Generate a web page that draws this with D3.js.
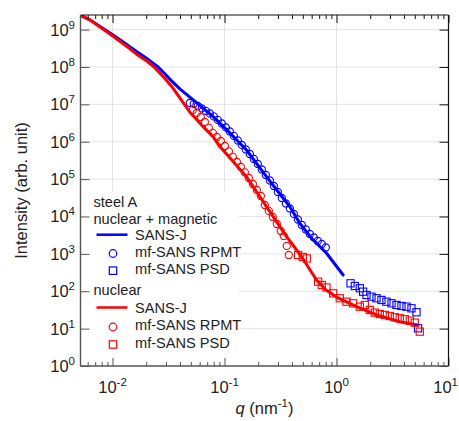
<!DOCTYPE html>
<html><head><meta charset="utf-8">
<script src="https://cdn.jsdelivr.net/npm/d3@7"></script>
<style>
html,body{margin:0;padding:0;background:#fff;}
svg{display:block;font-family:"Liberation Sans",Arial,Helvetica,sans-serif;}
</style></head>
<body><svg id="c" width="459" height="421"></svg>
<script>
// ---------- data (q in nm^-1, intensity in arb. unit) ----------
const blueSANSJ = [[0.0051,2.47e9],[0.00627,1.82e9],[0.0101,7.2e8],[0.0132,4.1e8],[0.01637,2.58e8],[0.0201,1.71e8],[0.025,1.05e8],[0.0283,7.3e7],[0.0335,4.3e7],[0.0399,2.6e7],[0.0525,1.31e7],[0.0791,4.69e6],[0.1115,1.72e6],[0.157,6.0e5],[0.237,1.16e5],[0.312,4.0e4],[0.383,1.83e4],[0.470,6.6e3],[0.6,2.6e3],[0.815,1.04e3],[1.146,272]];
const redSANSJ = [[0.0051,2.47e9],[0.00627,1.82e9],[0.0101,6.6e8],[0.0132,3.7e8],[0.01637,2.2e8],[0.0205,1.4e8],[0.0238,9.6e7],[0.0265,6.8e7],[0.0292,5.0e7],[0.0335,3.1e7],[0.0399,1.5e7],[0.049,6.2e6],[0.0644,2.53e6],[0.0791,1.37e6],[0.0908,7.4e5],[0.12,2.9e5],[0.157,1.16e5],[0.237,1.83e4],[0.358,2.88e3],[0.41,1.7e3],[0.5,7.5e2],[0.663,200],[0.8,110],[1.0,70],[1.51,38.6],[2.28,23.2],[3.67,15.3],[5.32,12.5]];
const blueRPMT = [[0.0490,1.09e7],[0.0532,1.03e7],[0.0577,9.06e6],[0.0627,7.77e6],[0.0681,6.67e6],[0.0739,5.71e6],[0.0802,4.75e6],[0.0871,3.83e6],[0.0946,3.08e6],[0.1027,2.41e6],[0.1115,1.88e6],[0.1211,1.43e6],[0.1315,1.08e6],[0.1427,8.2e5],[0.1549,6.21e5],[0.1682,4.71e5],[0.1827,3.46e5],[0.1983,2.54e5],[0.2153,1.81e5],[0.2338,1.29e5],[0.2539,9.2e4],[0.2756,6.56e4],[0.2993,4.53e4],[0.325,3.13e4],[0.3529,2.23e4],[0.3831,1.64e4],[0.416,1.17e4],[0.4515,8.3e3],[0.490,5.93e3],[0.532,4.5e3],[0.5775,3.41e3],[0.627,2.75e3],[0.681,2.21e3],[0.739,1.84e3],[0.8026,1.48e3]];
const bluePSD = [[1.334,163],[1.457,138],[1.614,120],[1.728,97.3],[1.853,79.4],[2.053,71.5],[2.276,64.8],[2.52,58.4],[2.79,52.6],[3.10,47.6],[3.43,42.9],[3.80,40.3],[4.22,38.7],[4.67,35.0],[5.18,27.4],[5.35,10.2]];
const redRPMT = [[0.0521,7.08e6],[0.0566,5.89e6],[0.0614,4.6e6],[0.0667,3.38e6],[0.0724,2.34e6],[0.0786,1.72e6],[0.0854,1.34e6],[0.0927,1.05e6],[0.1007,7.7e5],[0.1093,5.5e5],[0.1186,3.92e5],[0.1288,2.88e5],[0.1398,2.11e5],[0.1518,1.51e5],[0.1648,1.07e5],[0.179,7.4e4],[0.1943,5.13e4],[0.211,3.54e4],[0.229,2.03e4],[0.2486,1.41e4],[0.270,9.7e3],[0.293,6.3e3],[0.318,4.1e3],[0.3384,3.01e3],[0.3598,1.63e3],[0.375,934]];
const redPSD = [[0.454,934],[0.500,826],[0.543,753],[0.685,180],[0.739,147],[0.814,126],[0.933,88],[1.070,64.8],[1.228,52.6],[1.407,47.6],[1.614,38.6],[1.789,42.9],[1.983,31.5],[2.198,26.7],[2.436,24.6],[2.70,23.2],[2.99,21.8],[3.32,20.1],[3.67,18.9],[4.07,17.8],[4.51,16.3],[5.0,14.4],[5.54,8.3]];
const xTicks = [0.01, 0.1, 1, 10];
const xTickExp = ["-2", "-1", "0", "1"];
const yTicks = [1, 10, 100, 1e3, 1e4, 1e5, 1e6, 1e7, 1e8, 1e9];
const yTickExp = ["0","1","2","3","4","5","6","7","8","9"];
const legendItems = [
  {type:"title", text:"steel A"},
  {type:"title", text:"nuclear + magnetic"},
  {type:"line", color:"#0000ff", text:"SANS-J"},
  {type:"circle", color:"#0000ff", text:"mf-SANS RPMT"},
  {type:"square", color:"#0000ff", text:"mf-SANS PSD"},
  {type:"title", text:"nuclear"},
  {type:"line", color:"#ff0000", text:"SANS-J"},
  {type:"circle", color:"#ff0000", text:"mf-SANS RPMT"},
  {type:"square", color:"#ff0000", text:"mf-SANS PSD"}
];

// ---------- layout ----------
const L = 80.5, R = 448.5, T = 15, B = 366;
const W = 459;
const x = d3.scaleLog().domain([Math.pow(10,-2.286), 10]).range([L, R]);
const y = d3.scaleLog().domain([1, Math.pow(10,9.39)]).range([B, T]);
const svg = d3.select("#c");

svg.append("defs").append("clipPath").attr("id","clip")
  .append("rect").attr("x",L).attr("y",T).attr("width",R-L).attr("height",B-T);

// grid
const grid = svg.append("g").attr("stroke","#e4e4e4").attr("stroke-width",1);
xTicks.forEach(v => { if (x(v) > L+1 && x(v) < R-1) grid.append("line").attr("x1",x(v)).attr("x2",x(v)).attr("y1",T).attr("y2",B); });
yTicks.forEach(v => { if (y(v) > T+1 && y(v) < B-1) grid.append("line").attr("x1",L).attr("x2",R).attr("y1",y(v)).attr("y2",y(v)); });

// legend background
svg.append("rect").attr("x",L+1).attr("y",191).attr("width",157).attr("height",B-192).attr("fill","#fff");

// data
const plot = svg.append("g").attr("clip-path","url(#clip)");
const line = d3.line().x(d => x(d[0])).y(d => y(d[1])).curve(d3.curveLinear);
function drawLine(data, color){
  plot.append("path").datum(data).attr("d",line).attr("fill","none")
    .attr("stroke",color).attr("stroke-width",3).attr("stroke-linejoin","round").attr("stroke-linecap","round");
}
function drawCircles(data, color){
  plot.append("g").selectAll("circle").data(data).join("circle")
    .attr("cx",d=>x(d[0])).attr("cy",d=>y(d[1])).attr("r",3.6)
    .attr("fill","none").attr("stroke",color).attr("stroke-width",1.1);
}
function drawSquares(data, color){
  plot.append("g").selectAll("rect").data(data).join("rect")
    .attr("x",d=>x(d[0])-3.6).attr("y",d=>y(d[1])-3.6).attr("width",7.2).attr("height",7.2)
    .attr("fill","none").attr("stroke",color).attr("stroke-width",1.1);
}
drawLine(blueSANSJ, "#0000ff");
drawLine(redSANSJ, "#ff0000");
drawCircles(blueRPMT, "#0000ff");
drawCircles(redRPMT, "#ff0000");
drawSquares(bluePSD, "#0000ff");
drawSquares(redPSD, "#ff0000");

// axes ticks
const [xd0, xd1] = x.domain();
const xMinor = [];
for (let e = -3; e <= 1; e++) for (let k = 2; k <= 9; k++) { const v = k*Math.pow(10,e); if (v > xd0 && v < xd1) xMinor.push(v); }
const axisG = svg.append("g");
function ticks(axis, tr, color){
  axisG.append("g").attr("transform",tr).attr("color",color).call(axis)
    .call(g => g.select(".domain").remove());
}
ticks(d3.axisBottom(x).tickValues(xTicks).tickSizeInner(-8).tickSizeOuter(0).tickFormat(""), `translate(0,${B})`, "#555");
ticks(d3.axisBottom(x).tickValues(xMinor).tickSizeInner(-4).tickSizeOuter(0).tickFormat(""), `translate(0,${B})`, "#555");
ticks(d3.axisTop(x).tickValues(xTicks).tickSizeInner(-8).tickSizeOuter(0).tickFormat(""), `translate(0,${T})`, "#111");
ticks(d3.axisTop(x).tickValues(xMinor).tickSizeInner(-4).tickSizeOuter(0).tickFormat(""), `translate(0,${T})`, "#111");
ticks(d3.axisLeft(y).tickValues(yTicks).tickSizeInner(-9).tickSizeOuter(0).tickFormat(""), `translate(${L},0)`, "#555");
ticks(d3.axisRight(y).tickValues(yTicks).tickSizeInner(-9).tickSizeOuter(0).tickFormat(""), `translate(${R},0)`, "#111");
axisG.selectAll(".tick line").attr("stroke-width",1);

// frame
svg.append("line").attr("x1",L).attr("x2",R).attr("y1",T).attr("y2",T).attr("stroke","#111").attr("stroke-width",1.2);
svg.append("line").attr("x1",R).attr("x2",R).attr("y1",T).attr("y2",B).attr("stroke","#111").attr("stroke-width",1.2);
svg.append("line").attr("x1",L).attr("x2",R).attr("y1",B).attr("y2",B).attr("stroke","#555").attr("stroke-width",1.4);
svg.append("line").attr("x1",L).attr("x2",L).attr("y1",T).attr("y2",B).attr("stroke","#555").attr("stroke-width",1.4);

// tick labels
yTicks.forEach((v,i) => {
  const t = svg.append("text").attr("x",75).attr("y",y(v)+6).attr("text-anchor","end")
    .attr("font-size",16.5).attr("fill","#222");
  t.append("tspan").text("10");
  t.append("tspan").attr("dy",-7).attr("font-size",11.5).text(yTickExp[i]);
});
xTicks.forEach((v,i) => {
  const t = svg.append("text").attr("x",x(v)).attr("y",393).attr("text-anchor","middle")
    .attr("font-size",16.5).attr("fill","#222");
  t.append("tspan").text("10");
  t.append("tspan").attr("dy",-7).attr("font-size",11.5).text(xTickExp[i]);
  // keep the last label inside the picture
  const bb = t.node().getBBox();
  if (bb.x + bb.width > W - 1) t.attr("text-anchor","end").attr("x", W - 1);
});

// axis titles
svg.append("text").attr("transform",`translate(27,${(T+B)/2}) rotate(-90)`).attr("text-anchor","middle")
  .attr("font-size",16.5).attr("fill","#222").text("Intensity (arb. unit)");
const xt = svg.append("text").attr("x",(L+R)/2).attr("y",414).attr("text-anchor","middle")
  .attr("font-size",16.5).attr("fill","#222");
xt.append("tspan").attr("font-style","italic").text("q");
xt.append("tspan").text(" (nm");
xt.append("tspan").attr("dy",-7).attr("font-size",11.5).text("-1");
xt.append("tspan").attr("dy",7).text(")");

// legend
const lg = svg.append("g").attr("font-size",14.6).attr("fill","#222");
const rowY = [207, 223.7, 239.7, 256.5, 273.7, 295, 312.5, 330, 347.5];
legendItems.forEach((it,i) => {
  const by = rowY[i];
  if (it.type === "title") {
    lg.append("text").attr("x",93.5).attr("y",by).text(it.text);
    return;
  }
  const cy = by - 5;
  if (it.type === "line") lg.append("line").attr("x1",96.5).attr("x2",127.5).attr("y1",cy).attr("y2",cy).attr("stroke",it.color).attr("stroke-width",2.5);
  if (it.type === "circle") lg.append("circle").attr("cx",113).attr("cy",cy+2).attr("r",3.8).attr("fill","none").attr("stroke",it.color).attr("stroke-width",1.2);
  if (it.type === "square") lg.append("rect").attr("x",113-3.7).attr("y",cy+2-3.7).attr("width",7.4).attr("height",7.4).attr("fill","none").attr("stroke",it.color).attr("stroke-width",1.2);
  lg.append("text").attr("x",135).attr("y",by).text(it.text);
});
</script></body></html>
